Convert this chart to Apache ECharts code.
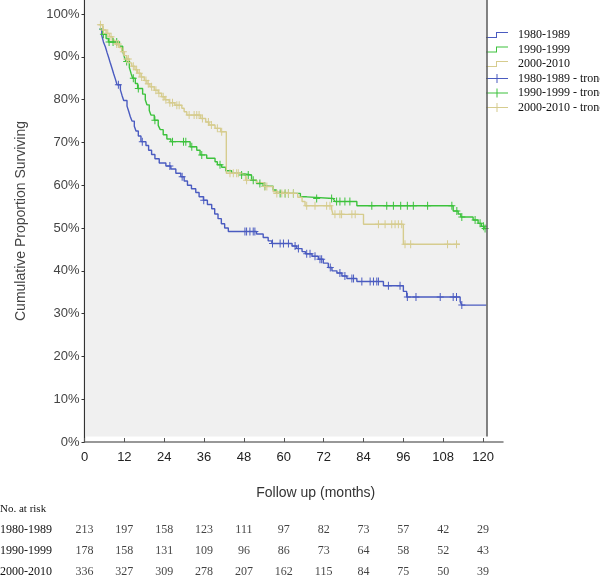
<!DOCTYPE html>
<html>
<head>
<meta charset="utf-8">
<script src="https://cdn.jsdelivr.net/npm/echarts@6/dist/echarts.min.js"></script>
<style>html,body{margin:0;padding:0;background:#fff}#c{width:600px;height:575px}</style>
</head>
<body>
<div id="c"></div>
<script>
// ---- data ----
const groups = ['1980-1989', '1990-1999', '2000-2010'];
const censorNames = ['1980-1989 - tronc', '1990-1999 - tronc', '2000-2010 - tronc'];
const xTicks = [0, 12, 24, 36, 48, 60, 72, 84, 96, 108, 120];
const yTicks = [0, 10, 20, 30, 40, 50, 60, 70, 80, 90, 100];

const survival1980 = [[4.5,96.5],[5.2,95.0],[5.7,93.5],[6.3,92.3],[6.8,91.0],[7.3,89.8],[7.8,88.5],[8.3,87.3],[8.8,86.0],[9.3,84.8],[9.8,83.5],[10.8,82.3],[11.3,81.0],[11.8,79.8],[12.8,78.5],[13.3,77.3],[13.8,76.0],[14.3,75.0],[15.0,73.8],[15.5,72.7],[16.2,71.5],[17.0,70.2],[18.5,69.3],[19.3,68.2],[20.2,67.2],[21.2,66.2],[22.5,65.2],[24.5,64.5],[26.0,63.8],[27.5,62.8],[29.0,62.0],[30.0,61.0],[31.0,60.0],[32.2,59.2],[33.5,58.3],[34.5,57.3],[35.8,56.5],[37.0,55.5],[38.3,54.5],[39.2,53.3],[40.2,52.2],[41.2,51.0],[42.2,50.0],[43.3,49.2],[51.8,48.6],[53.8,47.8],[55.3,47.0],[56.4,46.4],[62.5,45.8],[63.9,45.2],[65.5,44.5],[66.5,44.0],[68.5,43.4],[70.4,42.7],[71.9,41.8],[73.4,40.8],[74.5,40.0],[76.0,39.5],[77.5,38.8],[79.0,38.2],[82.0,37.5],[90.0,36.5],[96.0,35.2],[97.0,33.9],[113.1,32.8],[113.6,32.0],[121.0,32.0]];
const censor1980 = [[10.2,83.5],[17.4,70.2],[25.7,64.5],[29.4,62.0],[35.9,56.5],[48.3,49.2],[48.8,49.2],[49.8,49.2],[50.8,49.2],[51.3,49.2],[56.6,46.4],[58.9,46.4],[59.9,46.4],[61.4,46.4],[63.4,45.8],[64.4,45.2],[66.9,44.0],[67.9,44.0],[69.4,43.4],[70.9,42.7],[71.4,42.7],[74.0,40.8],[76.9,39.5],[78.4,38.8],[80.5,38.2],[81.0,38.2],[83.5,37.5],[86.0,37.5],[87.0,37.5],[88.0,37.5],[88.5,37.5],[91.5,36.5],[95.0,36.5],[97.2,33.9],[99.8,33.9],[107.1,33.9],[111.0,33.9],[112.0,33.9],[113.6,32.0]];

const survival1990 = [[4.5,96.5],[5.5,95.3],[6.5,94.3],[7.2,93.5],[10.5,92.5],[11.5,91.3],[12.0,90.0],[12.5,88.9],[13.5,87.5],[14.0,86.2],[14.5,85.0],[15.3,83.8],[16.0,82.6],[17.5,81.3],[18.3,80.0],[18.8,78.8],[19.5,77.5],[20.0,76.4],[21.0,75.2],[22.2,74.0],[22.8,73.0],[23.7,71.8],[24.8,70.8],[26.0,70.2],[31.8,69.0],[33.8,68.2],[34.8,67.1],[36.8,66.3],[39.3,65.5],[40.0,64.8],[41.3,64.2],[42.5,63.4],[44.3,62.8],[46.8,62.4],[50.3,61.2],[51.8,60.4],[53.8,59.8],[56.8,58.9],[57.8,58.1],[65.0,57.3],[66.9,56.9],[74.9,56.5],[75.4,56.2],[82.0,55.2],[111.0,54.0],[112.5,53.3],[113.3,52.6],[117.0,51.9],[118.5,51.1],[119.5,50.4],[120.3,49.9],[121.0,49.9]];
const censor1990 = [[5.7,95.3],[7.4,93.5],[8.6,93.5],[9.7,93.5],[12.7,88.9],[14.7,85.0],[16.2,82.6],[21.2,75.2],[26.5,70.2],[29.8,70.2],[30.5,70.2],[32.3,69.0],[35.3,67.1],[40.8,64.8],[47.3,62.4],[49.3,62.4],[50.8,61.2],[52.8,60.4],[54.3,59.8],[58.9,58.1],[60.4,58.1],[61.4,58.1],[62.9,58.1],[69.9,56.9],[74.4,56.9],[75.9,56.2],[76.9,56.2],[78.4,56.2],[79.9,56.2],[86.5,55.2],[91.0,55.2],[93.0,55.2],[95.2,55.2],[97.2,55.2],[99.0,55.2],[103.3,55.2],[110.6,55.2],[112.1,54.0],[113.6,52.6],[117.6,51.9],[119.1,51.1],[120.1,50.4],[120.6,49.9]];

const survival2000 = [[4.2,97.5],[5.5,96.3],[6.5,95.5],[7.5,94.7],[8.5,93.9],[9.2,93.0],[10.5,92.2],[11.2,91.2],[12.0,90.3],[12.7,89.5],[13.5,88.6],[14.2,87.8],[15.2,87.0],[16.0,86.2],[17.0,85.3],[18.0,84.5],[18.8,83.7],[19.7,83.0],[21.0,82.2],[22.2,81.5],[23.2,80.7],[24.2,80.0],[25.5,79.3],[27.2,78.7],[29.3,78.0],[30.0,77.2],[30.8,76.4],[35.0,75.6],[36.5,74.8],[37.5,74.1],[39.3,73.3],[41.0,72.5],[42.7,62.8],[47.0,62.4],[48.5,61.2],[51.8,60.6],[54.0,59.7],[56.8,58.5],[57.5,58.1],[64.2,57.2],[65.5,56.2],[66.4,55.2],[74.4,54.4],[74.8,53.2],[84.0,50.9],[96.0,46.2],[113.0,46.2]];
const censor2000 = [[4.8,97.5],[5.7,96.3],[7.0,95.5],[8.0,94.7],[9.7,93.0],[10.2,93.0],[11.7,91.2],[12.7,89.5],[13.2,89.5],[14.7,87.8],[15.7,87.0],[16.5,86.2],[17.2,85.3],[18.5,84.5],[19.2,83.7],[20.2,83.0],[21.5,82.2],[22.4,81.5],[23.7,80.7],[24.5,80.0],[25.7,79.3],[26.5,79.3],[27.8,78.7],[28.5,78.7],[31.5,76.4],[33.0,76.4],[33.8,76.4],[34.5,76.4],[35.5,75.6],[37.3,74.8],[38.2,74.1],[40.0,73.3],[41.3,72.5],[43.8,62.8],[44.8,62.8],[45.8,62.8],[46.3,62.8],[48.8,61.2],[54.3,59.7],[54.9,59.7],[57.9,58.1],[59.4,58.1],[60.4,58.1],[61.4,58.1],[62.9,58.1],[66.9,55.2],[69.4,55.2],[72.9,55.2],[73.9,55.2],[75.4,53.2],[76.9,53.2],[77.4,53.2],[80.5,53.2],[81.5,53.2],[88.5,50.9],[90.5,50.9],[92.5,50.9],[93.5,50.9],[94.5,50.9],[95.5,50.9],[96.5,46.2],[98.2,46.2],[109.3,46.2],[112.0,46.2]];

const riskMonths = [0, 12, 24, 36, 48, 60, 72, 84, 96, 108, 120];
const risk1980 = [213, 197, 158, 123, 111, 97, 82, 73, 57, 42, 29];
const risk1990 = [178, 158, 131, 109, 96, 86, 73, 64, 58, 52, 43];
const risk2000 = [336, 327, 309, 278, 207, 162, 115, 84, 75, 50, 39];

// ---- styling ----
const colors = ['#4a5bc0', '#3cc23c', '#d6cc8e'];
const survivals = [survival1980, survival1990, survival2000];
const censors = [censor1980, censor1990, censor2000];
const risks = [risk1980, risk1990, risk2000];

const plusPath = 'path://M3,0 L4,0 L4,3.5 L7,3.5 L7,4.5 L4,4.5 L4,8 L3,8 L3,4.5 L0,4.5 L0,3.5 L3,3.5 Z';
const stepIcon = 'path://M0,0 L0.01,0 L0,0.01 Z M22,10 L21.99,10 L22,9.99 Z M0,7 L10,7 L10,2 L22,2 L22,3 L11,3 L11,8 L0,8 Z';
const crossIcon = 'path://M0,4.5 L10.5,4.5 L10.5,0.5 L11.5,0.5 L11.5,4.5 L22,4.5 L22,5.5 L11.5,5.5 L11.5,9.5 L10.5,9.5 L10.5,5.5 L0,5.5 Z M0,0 L0.01,0 L0,0.01 Z M22,10 L21.99,10 L22,9.99 Z';

const series = [];
survivals.forEach((d, i) => {
  const s = {
    name: groups[i], type: 'line', step: 'end', data: d,
    xAxisIndex: 0, yAxisIndex: 0,
    symbol: 'none', showSymbol: false, silent: true, z: 3,
    lineStyle: { color: colors[i], width: 1.4 }, itemStyle: { color: colors[i] }
  };
  if (i === 0) {
    s.markArea = {
      silent: true, z: 1,
      itemStyle: { color: '#f0f0f0' },
      data: [[{ coord: [0.45, 1.3] }, { coord: [121.1, 103.3] }]]
    };
    s.markLine = {
      silent: true, symbol: 'none', label: { show: false },
      lineStyle: { color: '#5a5a5a', width: 1.5, type: 'solid' },
      data: [[{ coord: [121.1, 1.3] }, { coord: [121.1, 103.3] }]]
    };
  }
  series.push(s);
});
censors.forEach((d, i) => {
  series.push({
    name: censorNames[i], type: 'scatter', data: d, xAxisIndex: 0, yAxisIndex: 0,
    symbol: plusPath, symbolSize: [7, 8], silent: true, z: 4,
    itemStyle: { color: colors[i], opacity: 1 }
  });
});
risks.forEach((r, i) => {
  series.push({
    name: 'risk' + i, type: 'scatter', xAxisIndex: 1, yAxisIndex: 1, silent: true,
    data: r.map((v, k) => [riskMonths[k], i, v]),
    symbolSize: 1, itemStyle: { color: 'rgba(0,0,0,0)' },
    label: { show: true, position: 'inside', formatter: p => String(p.value[2]),
      fontFamily: 'Liberation Serif', fontSize: 12, color: '#111' }
  });
});

const chart = echarts.init(document.getElementById('c'), null, { renderer: 'canvas' });
chart.setOption({
  animation: false,
  backgroundColor: '#ffffff',
  title: {
    text: 'No. at risk', left: 0, top: 504, padding: 0,
    textStyle: { fontFamily: 'Liberation Serif', fontSize: 11, fontWeight: 'normal', color: '#111' }
  },
  legend: {
    orient: 'vertical', left: 486, top: 28, padding: 0,
    itemWidth: 22, itemHeight: 10, itemGap: 0.5,
    selectedMode: false,
    itemStyle: { borderWidth: 0 },
    textStyle: { fontFamily: 'Liberation Serif', fontSize: 12, color: '#111', lineHeight: 14, padding: [0, 0, 0, 5] },
    data: [
      { name: groups[0], icon: stepIcon }, { name: groups[1], icon: stepIcon }, { name: groups[2], icon: stepIcon },
      { name: censorNames[0], icon: crossIcon }, { name: censorNames[1], icon: crossIcon }, { name: censorNames[2], icon: crossIcon }
    ]
  },
  grid: [
    { left: 84.5, right: 97, top: 0, bottom: 133, outerBoundsMode: 'none', containLabel: false },
    { left: 84.5, right: 97, top: 509, bottom: 0, outerBoundsMode: 'none', containLabel: false }
  ],
  xAxis: [
    {
      type: 'value', gridIndex: 0, min: 0, max: 126,
      name: 'Follow up (months)', nameLocation: 'middle', nameGap: 44,
      nameTextStyle: { fontFamily: 'Liberation Sans', fontSize: 14, color: '#333', padding: [0, 0, 0, 44] },
      axisLine: { show: true, lineStyle: { color: '#777', width: 1.5 } },
      axisTick: { show: true, inside: true, length: 4, customValues: xTicks, lineStyle: { color: '#555' } },
      axisLabel: { customValues: xTicks, margin: 9, fontFamily: 'Liberation Sans Narrow, Liberation Sans', fontSize: 13, color: '#222' },
      splitLine: { show: false }
    },
    {
      type: 'value', gridIndex: 1, min: 0, max: 126, show: false
    }
  ],
  yAxis: [
    {
      type: 'value', gridIndex: 0, min: 0, max: 103.3,
      name: 'Cumulative Proportion Surviving', nameLocation: 'middle', nameGap: 56, nameRotate: 90,
      nameTextStyle: { fontFamily: 'Liberation Sans', fontSize: 14, color: '#444' },
      axisLine: { show: true, lineStyle: { color: '#333', width: 1.2 } },
      axisTick: { show: true, length: 3, customValues: yTicks, lineStyle: { color: '#333' } },
      axisLabel: { customValues: yTicks, formatter: v => v + '%', margin: 5, fontFamily: 'Liberation Sans', fontSize: 13, color: '#444' },
      splitLine: { show: false }
    },
    {
      type: 'value', gridIndex: 1, inverse: true, min: -1, max: 66 / 21 - 1,
      axisLine: { show: false }, axisTick: { show: false }, splitLine: { show: false },
      axisLabel: { customValues: [0, 1, 2], formatter: v => groups[Math.round(v)] || '',
        align: 'left', margin: 84.5, fontFamily: 'Liberation Serif', fontSize: 12, color: '#111' }
    }
  ],
  series: series
});
</script>
</body>
</html>
